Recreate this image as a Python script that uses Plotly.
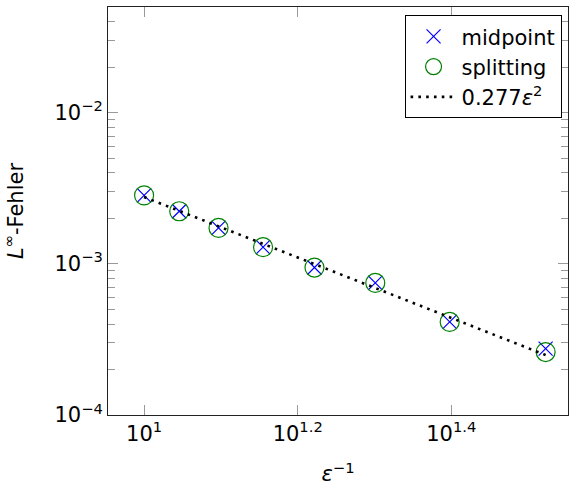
import plotly.graph_objects as go

# data
inv_eps = [10.0, 11.111, 12.5, 14.286, 16.667, 20.0, 25.0, 33.333]
err_midpoint = [2.84e-3, 2.23e-3, 1.73e-3, 1.29e-3, 9.46e-4, 7.48e-4, 4.13e-4, 2.75e-4]
err_splitting = [2.84e-3, 2.23e-3, 1.73e-3, 1.29e-3, 9.46e-4, 7.48e-4, 4.13e-4, 2.61e-4]
fit_coef = 0.277
fit_vals = [fit_coef * (1.0 / v) ** 2 for v in inv_eps]

x_tickvals = [10 ** 1, 10 ** 1.2, 10 ** 1.4]
x_ticktext = ["10<sup>1</sup>", "10<sup>1.2</sup>", "10<sup>1.4</sup>"]
y_tickvals = [1e-4, 1e-3, 1e-2]
y_ticktext = ["10<sup>−4</sup>", "10<sup>−3</sup>", "10<sup>−2</sup>"]
y_minor = [k * 10.0 ** n for n in (-4, -3, -2) for k in range(2, 10)]

FONT = "DejaVu Sans, sans-serif"
FS = 21

fig = go.Figure()
fig.add_trace(go.Scatter(
    x=inv_eps, y=err_midpoint, mode="markers", name="midpoint",
    marker=dict(symbol="x-thin", size=14, color="blue",
                line=dict(color="blue", width=1.2)),
))
fig.add_trace(go.Scatter(
    x=inv_eps, y=err_splitting, mode="markers", name="splitting",
    marker=dict(symbol="circle-open", size=19, color="green",
                line=dict(color="green", width=1.2)),
))
fig.add_trace(go.Scatter(
    x=inv_eps, y=fit_vals, mode="lines", name="0.277<i>ε</i><sup>2</sup>",
    line=dict(color="black", width=2.6, dash="2.6px,5.2px"),
))

axis_common = dict(
    type="log", showline=True, linecolor="#222", linewidth=1, mirror="ticks",
    ticks="inside", tickcolor="#999", ticklen=10, tickwidth=1,
    showgrid=False, zeroline=False,
    tickfont=dict(family=FONT, size=FS, color="black"),
)

fig.update_xaxes(
    **axis_common,
    range=[0.953, 1.552],
    tickmode="array", tickvals=x_tickvals, ticktext=x_ticktext,
    title=dict(text="<i>ε</i><sup>−1</sup>", font=dict(family=FONT, size=FS, color="black"),
               standoff=21),
)
fig.update_yaxes(
    **axis_common,
    range=[-4, -1.3],
    tickmode="array", tickvals=y_tickvals, ticktext=y_ticktext,
    minor=dict(tickmode="array", tickvals=y_minor, ticks="inside", ticklen=7,
               tickcolor="#999", tickwidth=1, showgrid=False),
    title=dict(text="<i>L</i><sup>∞</sup>-Fehler", font=dict(family=FONT, size=FS, color="black"),
               standoff=25),
)

fig.update_layout(
    width=569, height=488,
    margin=dict(l=108, r=1, t=7, b=73),
    plot_bgcolor="white", paper_bgcolor="white",
    font=dict(family=FONT, size=FS, color="black"),
    showlegend=True,
    legend=dict(
        x=0.986, y=0.980, xanchor="right", yanchor="top",
        bgcolor="white", bordercolor="black", borderwidth=1,
        font=dict(family=FONT, size=FS, color="black"),
        itemsizing="trace", itemwidth=46,
    ),
)

fig.write_html("out.html")
